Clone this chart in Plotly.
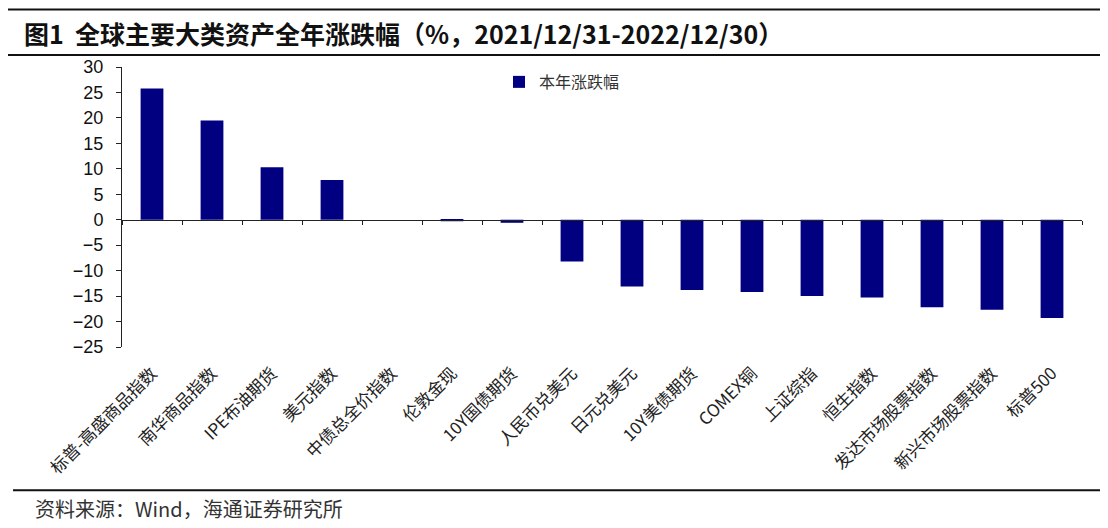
import plotly.graph_objects as go

categories = ["标普-高盛商品指数", "南华商品指数", "IPE布油期货", "美元指数", "中债总全价指数",
              "伦敦金现", "10Y国债期货", "人民币兑美元", "日元兑美元", "10Y美债期货",
              "COMEX铜", "上证综指", "恒生指数", "发达市场股票指数", "新兴市场股票指数", "标普500"]
values = [25.8, 19.5, 10.3, 7.8, 0.0, -0.3, -0.6, -8.2, -13.1, -13.8,
          -14.2, -15.0, -15.3, -17.2, -17.7, -19.3]
series_name = "本年涨跌幅"
y_ticks = [-25, -20, -15, -10, -5, 0, 5, 10, 15, 20, 25, 30]
title_text = "图1  全球主要大类资产全年涨跌幅（%，2021/12/31-2022/12/30）"
source_text = "资料来源：Wind，海通证券研究所"

# page has an 8px body margin; figure is sized to fill the rest of the window
OFF = 8
W, H = 1108 - OFF, 528 - OFF
# plot area in window pixels: x 122..1082, y 67..347.5
L = 122 - OFF
R = 1108 - 1082
T = 67 - OFF
B = 528 - 347.5
pw, ph = W - L - R, H - T - B

def px(x):  # window x pixel -> paper fraction
    return (x - OFF - L) / pw

def py(y):  # window y pixel -> paper fraction
    return (H - B - (y - OFF)) / ph

ymin, ymax = -25, 30
zero_frac = (0 - ymin) / (ymax - ymin)

fig = go.Figure()
fig.add_trace(go.Bar(x=categories, y=values, name=series_name,
                     marker=dict(color="#000080", line=dict(width=0)),
                     showlegend=True))

fig.update_layout(
    width=W, height=H,
    margin=dict(l=L, r=R, t=T, b=B, autoexpand=False),
    paper_bgcolor="white", plot_bgcolor="white",
    bargap=0.62,
    showlegend=True,
    legend=dict(x=px(499), y=py(82), xanchor="left", yanchor="middle",
                font=dict(family="Noto Sans CJK SC", size=16, color="#333"),
                bgcolor="rgba(0,0,0,0)", itemwidth=30),
    xaxis=dict(
        type="category", anchor="free", position=zero_frac,
        showline=True, linecolor="#222", linewidth=1,
        ticks="outside", tickson="boundaries", ticklen=4, tickcolor="#222",
        tickangle=-45, ticklabelstandoff=136,
        tickfont=dict(family="Noto Sans CJK SC", size=17, color="#222"),
        showgrid=False, zeroline=False,
        range=[-0.5, len(categories) - 0.5],
    ),
    yaxis=dict(
        range=[ymin, ymax], tickvals=y_ticks,
        showline=True, linecolor="#222", linewidth=1,
        ticks="outside", ticklen=5, tickcolor="#222",
        ticklabelstandoff=9,
        tickfont=dict(family="Liberation Sans", size=18, color="#111"),
        showgrid=False, zeroline=False,
    ),
    shapes=[
        dict(type="line", xref="paper", yref="paper", x0=px(8), x1=px(1100), y0=py(9.5), y1=py(9.5),
             line=dict(color="#111", width=2)),
        dict(type="line", xref="paper", yref="paper", x0=px(8), x1=px(1100), y0=py(55), y1=py(55),
             line=dict(color="#111", width=2)),
        dict(type="line", xref="paper", yref="paper", x0=px(13), x1=px(1100), y0=py(491), y1=py(491),
             line=dict(color="#111", width=2)),
    ],
    annotations=[
        dict(text="<b>" + title_text + "</b>", xref="paper", yref="paper", x=px(22), y=py(33),
             xanchor="left", yanchor="middle", showarrow=False,
             font=dict(family="Noto Sans CJK SC", size=25, color="#111")),
        dict(text=source_text, xref="paper", yref="paper", x=px(33), y=py(509),
             xanchor="left", yanchor="middle", showarrow=False,
             font=dict(family="Noto Sans CJK SC", size=20, color="#333")),
    ],
)

fig.write_html("out.html")
